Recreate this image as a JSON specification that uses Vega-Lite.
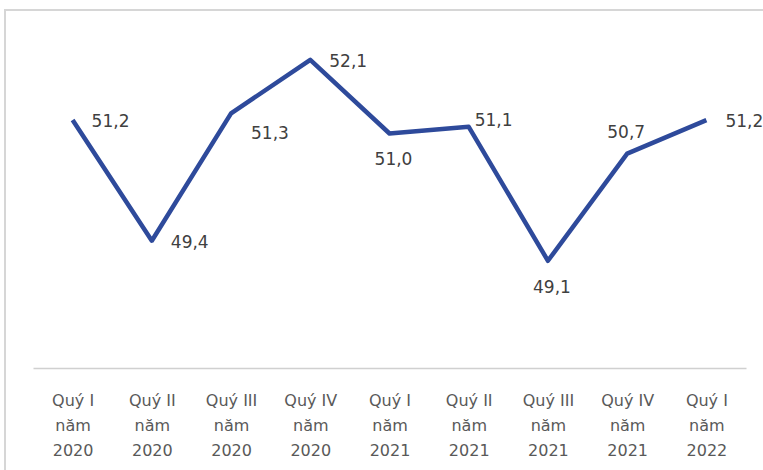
{
  "$schema": "https://vega.github.io/schema/vega-lite/v6.json",
  "autosize": {"type": "none"},
  "padding": {"left": 5, "top": 10, "right": 0, "bottom": 0},
  "width": 768,
  "height": 480,
  "background": "#ffffff",
  "config": {
    "view": {"stroke": "#d6d6d6", "strokeWidth": 2},
    "text": {"font": "DejaVu Sans"}
  },
  "data": {
    "values": [
      {"q": "Quý I\nnăm\n2020", "k": "2020Q1", "v": 51.2, "label": "51,2"},
      {"q": "Quý II\nnăm\n2020", "k": "2020Q2", "v": 49.4, "label": "49,4"},
      {"q": "Quý III\nnăm\n2020", "k": "2020Q3", "v": 51.3, "label": "51,3"},
      {"q": "Quý IV\nnăm\n2020", "k": "2020Q4", "v": 52.1, "label": "52,1"},
      {"q": "Quý I\nnăm\n2021", "k": "2021Q1", "v": 51.0, "label": "51,0"},
      {"q": "Quý II\nnăm\n2021", "k": "2021Q2", "v": 51.1, "label": "51,1"},
      {"q": "Quý III\nnăm\n2021", "k": "2021Q3", "v": 49.1, "label": "49,1"},
      {"q": "Quý IV\nnăm\n2021", "k": "2021Q4", "v": 50.7, "label": "50,7"},
      {"q": "Quý I\nnăm\n2022", "k": "2022Q1", "v": 51.2, "label": "51,2"}
    ]
  },
  "encoding": {
    "x": {
      "field": "q",
      "type": "nominal",
      "sort": null,
      "scale": {"type": "point", "padding": 0.5, "range": [28, 741]},
      "axis": {
        "title": null,
        "orient": "bottom",
        "offset": -122,
        "domain": true,
        "domainColor": "#d0d0d0",
        "domainWidth": 1.5,
        "ticks": false,
        "tickSize": 0,
        "grid": false,
        "labelAngle": 0,
        "labelExpr": "split(datum.label, '\\n')",
        "labelFont": "DejaVu Sans",
        "labelFontSize": 16,
        "labelColor": "#595959",
        "labelLineHeight": 25,
        "labelPadding": 24,
        "labelBaseline": "top"
      }
    },
    "y": {
      "field": "v",
      "type": "quantitative",
      "scale": {"domain": [45.679, 52.843], "nice": false, "zero": false},
      "axis": null
    }
  },
  "layer": [
    {
      "mark": {"type": "line", "color": "#2E4A9B", "strokeWidth": 4.5, "strokeJoin": "round"}
    },
    {
      "transform": [{"filter": {"field": "k", "oneOf": ["2020Q1", "2020Q2", "2020Q4", "2022Q1"]}}],
      "mark": {"type": "text", "align": "left", "baseline": "middle", "dx": 19, "dy": 2, "fontSize": 17, "color": "#404040"},
      "encoding": {"text": {"field": "label"}}
    },
    {
      "transform": [{"filter": {"field": "k", "oneOf": ["2020Q3"]}}],
      "mark": {"type": "text", "align": "left", "baseline": "middle", "dx": 20, "dy": 21, "fontSize": 17, "color": "#404040"},
      "encoding": {"text": {"field": "label"}}
    },
    {
      "transform": [{"filter": {"field": "k", "oneOf": ["2021Q1", "2021Q3"]}}],
      "mark": {"type": "text", "align": "center", "baseline": "middle", "dx": 4, "dy": 27, "fontSize": 17, "color": "#404040"},
      "encoding": {"text": {"field": "label"}}
    },
    {
      "transform": [{"filter": {"field": "k", "oneOf": ["2021Q2"]}}],
      "mark": {"type": "text", "align": "left", "baseline": "middle", "dx": 6, "dy": -6, "fontSize": 17, "color": "#404040"},
      "encoding": {"text": {"field": "label"}}
    },
    {
      "transform": [{"filter": {"field": "k", "oneOf": ["2021Q4"]}}],
      "mark": {"type": "text", "align": "center", "baseline": "middle", "dx": -1, "dy": -21, "fontSize": 17, "color": "#404040"},
      "encoding": {"text": {"field": "label"}}
    }
  ]
}
